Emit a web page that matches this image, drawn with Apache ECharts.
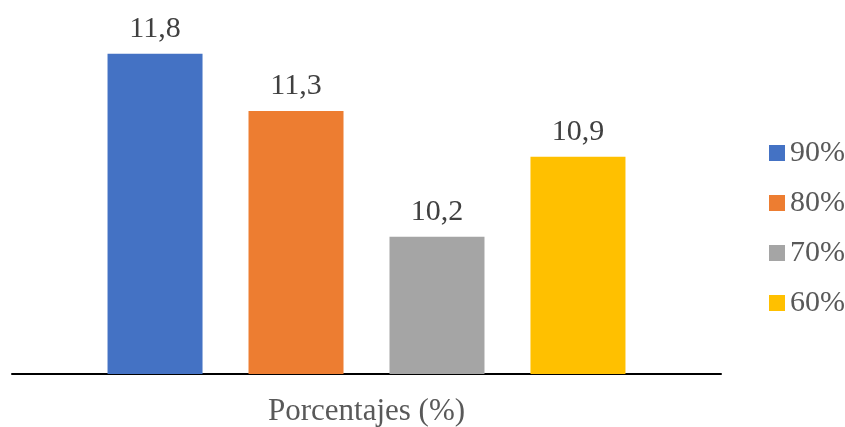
<!DOCTYPE html>
<html>
<head>
<meta charset="utf-8">
<script src="https://cdn.jsdelivr.net/npm/echarts@6/dist/echarts.min.js"></script>
<style>
  html, body { margin: 0; padding: 0; background: #ffffff; }
  #chart { width: 845px; height: 427px; }
</style>
</head>
<body>
<div id="chart"></div>
<script>
// Category and series data
const categories = ['Porcentajes (%)'];
const seriesNames = ['90%', '80%', '70%', '60%'];
const seriesValues = [11.8, 11.3, 10.2, 10.9];
const seriesColors = ['#4472C4', '#ED7D31', '#A5A5A5', '#FFC000'];

const FONT = '"Liberation Serif", "Times New Roman", serif';

const chart = echarts.init(document.getElementById('chart'), null, { renderer: 'canvas' });

const series = seriesNames.map((name, i) => ({
  name: name,
  type: 'bar',
  data: [seriesValues[i]],
  barWidth: 95,
  barGap: '48.4%',
  itemStyle: { color: seriesColors[i] },
  label: {
    show: true,
    position: 'top',
    distance: 10,
    fontFamily: FONT,
    fontSize: 30,
    color: '#404040',
    formatter: p => String(p.value).replace('.', ',')
  }
}));

chart.setOption({
  animation: false,
  backgroundColor: '#ffffff',
  grid: { left: 12, right: 124, top: 31, bottom: 52, containLabel: false },
  legend: {
    orient: 'vertical',
    left: 764,
    top: 133,
    itemWidth: 16,
    itemHeight: 16,
    itemGap: 20,
    icon: 'rect',
    textStyle: { fontFamily: FONT, fontSize: 30, color: '#595959' },
    data: seriesNames
  },
  xAxis: {
    type: 'category',
    data: categories,
    axisLine: { lineStyle: { color: '#000000', width: 2 } },
    axisTick: { show: false },
    axisLabel: { fontFamily: FONT, fontSize: 31, color: '#595959', margin: 22 },
    splitLine: { show: false }
  },
  yAxis: {
    type: 'value',
    min: 9,
    max: 12,
    show: false,
    splitLine: { show: false }
  },
  series: series
});
</script>
</body>
</html>
